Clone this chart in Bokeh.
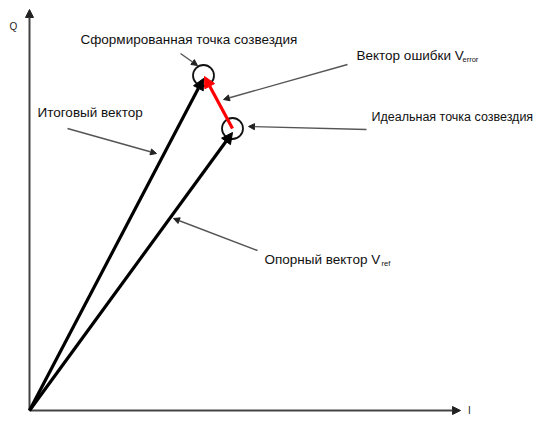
from bokeh.plotting import figure
from bokeh.models import Arrow, NormalHead, Range1d, ColumnDataSource
from bokeh.core.properties import value
from bokeh.embed import file_html
from bokeh.resources import INLINE

# ---- data (I/Q units) ----
axis_I_end = 431
axis_Q_end = 401
ideal_I, ideal_Q = 203, 282      # ideal constellation point (reference vector tip)
formed_I, formed_Q = 174, 335    # formed constellation point (resulting vector tip)

label_texts = ["Сформированная точка созвездия", "Итоговый вектор", "Вектор ошибки V",
               "Опорный вектор V"]
label_I = [51, 8, 327, 235]
label_Q = [371, 298, 355, 151]

ideal_label = "Идеальная точка созвездия"
ideal_label_I, ideal_label_Q = 342, 294

sub_texts = ["error", "ref"]
sub_I = [433, 352]
sub_Q = [351, 147]

# callout arrows: start -> end
call_I0 = [151, 38, 318, 337, 228]
call_Q0 = [357, 282, 346, 281, 160]
call_I1 = [168, 127, 194, 219, 144]
call_Q1 = [345, 257, 311, 284, 192]

FONT = value("Liberation Sans")

p = figure(width=544, height=415, output_backend="svg", toolbar_location=None,
           x_range=Range1d(-29, 515), y_range=Range1d(-5, 410),
           min_border=0, outline_line_color=None)
p.axis.visible = False
p.grid.visible = False
p.background_fill_color = "white"

# coordinate axes
p.add_layout(Arrow(end=NormalHead(size=8, fill_color="#222", line_color="#222"),
                   x_start=0, y_start=0, x_end=axis_I_end, y_end=0,
                   line_color="#444", line_width=2))
p.add_layout(Arrow(end=NormalHead(size=8, fill_color="#222", line_color="#222"),
                   x_start=0, y_start=0, x_end=0, y_end=axis_Q_end,
                   line_color="#444", line_width=2))

# vectors
p.add_layout(Arrow(end=NormalHead(size=11, fill_color="black", line_color="black"),
                   x_start=0, y_start=0, x_end=ideal_I, y_end=ideal_Q - 4,
                   line_color="black", line_width=3.2))
p.add_layout(Arrow(end=NormalHead(size=11, fill_color="black", line_color="black"),
                   x_start=0, y_start=0, x_end=formed_I, y_end=formed_Q - 3,
                   line_color="black", line_width=3.2))
p.add_layout(Arrow(end=NormalHead(size=11, fill_color="red", line_color="red"),
                   x_start=ideal_I, y_start=ideal_Q, x_end=formed_I + 1, y_end=formed_Q - 1,
                   line_color="red", line_width=3.2))

# constellation point circles
p.scatter([ideal_I, formed_I], [ideal_Q, formed_Q], marker="circle", size=21,
          fill_color=None, line_color="#111", line_width=1.8)

# callout arrows
for a, b, c, d in zip(call_I0, call_Q0, call_I1, call_Q1):
    p.add_layout(Arrow(end=NormalHead(size=6, fill_color="#222", line_color="#222"),
                       x_start=a, y_start=b, x_end=c, y_end=d,
                       line_color="#555", line_width=1.4))

# labels
src = ColumnDataSource(dict(x=label_I, y=label_Q, t=label_texts))
p.text(x="x", y="y", text="t", source=src, text_font=FONT, text_font_size="13.5px",
       text_baseline="middle", text_align="left", text_color="#111")
p.text(x=[ideal_label_I], y=[ideal_label_Q], text=[ideal_label], text_font=FONT,
       text_font_size="12.5px", text_baseline="middle", text_align="left", text_color="#111")
ssrc = ColumnDataSource(dict(x=sub_I, y=sub_Q, t=sub_texts))
p.text(x="x", y="y", text="t", source=ssrc, text_font=FONT, text_font_size="7.5px",
       text_baseline="middle", text_align="left", text_color="#111")

# axis names
p.text(x=[-16], y=[384], text=["Q"], text_font=FONT, text_font_size="10px",
       text_baseline="middle", text_align="center", text_color="#222")
p.text(x=[440], y=[0], text=["I"], text_font=FONT, text_font_size="10px",
       text_baseline="middle", text_align="center", text_color="#222")

open("out.html", "w").write(file_html(p, INLINE))
